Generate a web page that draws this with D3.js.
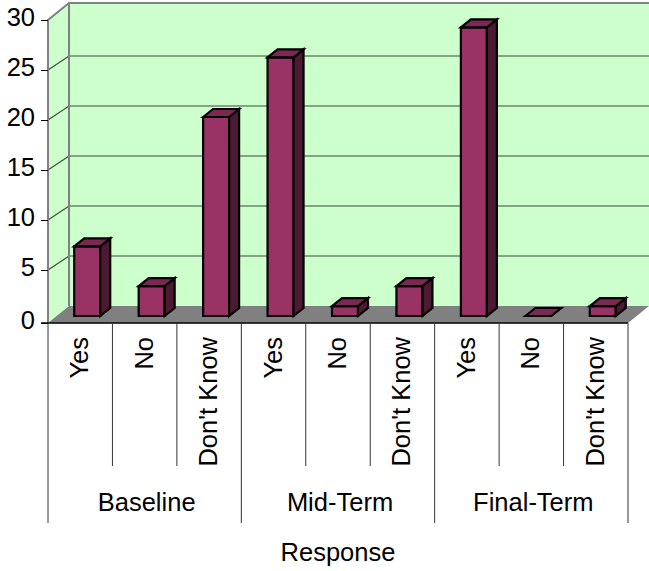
<!DOCTYPE html>
<html>
<head>
<meta charset="utf-8">
<style>
  html, body { margin: 0; padding: 0; background: #fff; }
  text { font-family: "Liberation Sans", Arial, sans-serif; fill: #000; }
</style>
<script src="https://cdn.jsdelivr.net/npm/d3@7/dist/d3.min.js"></script>
</head>
<body>
<svg id="chart" width="649" height="571"></svg>
<script>
const groups = ["Baseline", "Mid-Term", "Final-Term"];
const responses = ["Yes", "No", "Don't Know"];
const baselineValues = [7, 3, 20];
const midTermValues = [26, 1, 3];
const finalTermValues = [29, 0, 1];
const yTicks = [0, 5, 10, 15, 20, 25, 30];
const axisTitle = "Response";

const rows = groups.flatMap((g, gi) =>
  responses.map((r, ri) => ({
    group: g, response: r,
    value: [baselineValues, midTermValues, finalTermValues][gi][ri]
  })));

const svg = d3.select("#chart");
const fontSize = 25.5;

// Front plane of the 3D box, and the depth offset to its back wall
const left = 48, right = 628, baseY = 323, topY = 20;
const depthX = 21, depthY = -17;

const x = d3.scaleBand().domain(d3.range(rows.length)).range([left, right]);
const groupX = d3.scaleBand().domain(groups).range([left, right]);
// The front plane keeps even 5-unit steps above 5, with a slightly taller first step
const y = d3.scaleLinear().domain([0, 5, 30]).range([baseY, 270, topY]);
const yBack = d3.scaleLinear().domain([0, 30]).range([baseY + depthY, 6]);
const yBar = d3.scaleLinear().domain([0, 30]).range([316, 17.5]);

const pts = a => a.map(p => p.join(",")).join(" ");
const backTop = topY + depthY;

// Side wall, back wall, floor
svg.append("polygon").attr("fill", "#ccffcc")
  .attr("points", pts([[left, baseY], [left, topY], [left + depthX, backTop], [left + depthX, baseY + depthY]]));
svg.append("polygon").attr("fill", "#ccffcc")
  .attr("points", pts([[left + depthX, baseY + depthY], [left + depthX, backTop], [right + depthX, backTop], [right + depthX, baseY + depthY]]));
svg.append("polygon").attr("fill", "#808080")
  .attr("points", pts([[left, baseY], [left + depthX, baseY + depthY], [right + depthX, baseY + depthY], [right, baseY]]));

// Gridlines wrapping the side and back walls
const grid = svg.append("g").attr("fill", "none").attr("stroke", "#3f4a3f").attr("stroke-width", 1.2);
grid.selectAll("polyline").data(yTicks.filter(t => t > 0 && t < 30)).join("polyline")
  .attr("points", t => pts([[left, y(t)], [left + depthX, yBack(t)], [right + depthX, yBack(t)]]));

// Wall edges
const edge = svg.append("g").attr("fill", "none").attr("stroke", "#808080").attr("stroke-width", 2);
edge.append("polyline")
  .attr("points", pts([[left, baseY], [left, topY], [left + depthX, backTop], [right + depthX, backTop]]));
edge.append("line")
  .attr("x1", left + depthX).attr("x2", left + depthX)
  .attr("y1", backTop).attr("y2", baseY + depthY);

// Bars: front, top and side faces
const barW = 26, barOffset = 7, barDX = 10, barDY = -8;
const bars = svg.append("g").attr("stroke", "#000").attr("stroke-width", 2.2).attr("stroke-linejoin", "miter");
rows.forEach((d, i) => {
  const x0 = x(i) + x.bandwidth() / 2 + barOffset - barW / 2;
  const x1 = x0 + barW, yb = yBar(0), yt = yBar(d.value);
  const b = bars.append("g");
  if (d.value > 0) {
    b.append("polygon").attr("fill", "#993366")
      .attr("points", pts([[x0, yb], [x0, yt], [x1, yt], [x1, yb]]));
    b.append("polygon").attr("fill", "#4d1a33")
      .attr("points", pts([[x1, yb], [x1, yt], [x1 + barDX, yt + barDY], [x1 + barDX, yb + barDY]]));
  }
  b.append("polygon").attr("fill", "#7a2952")
    .attr("points", pts([[x0, yt], [x0 + barDX, yt + barDY], [x1 + barDX, yt + barDY], [x1, yt]]));
});

// Value axis
const yAxis = svg.append("g").attr("transform", `translate(${left},0)`)
  .call(d3.axisLeft(y).tickValues(yTicks).tickSize(7).tickPadding(6));
yAxis.select(".domain").remove();
yAxis.selectAll("line").attr("stroke", "#000");
yAxis.selectAll("text")
  .attr("font-size", fontSize)
  .attr("dy", "0.22em")
  .style("font-family", '"Liberation Sans", Arial, sans-serif')
  .attr("fill", "#000");

// Two-level category axis below the floor
svg.append("line").attr("x1", left - 7).attr("x2", right).attr("y1", baseY).attr("y2", baseY)
  .attr("stroke", "#000").attr("stroke-width", 1.5);

const sep = svg.append("g").attr("stroke", "#333").attr("stroke-width", 1);
sep.selectAll("line.cat").data(d3.range(rows.length).filter(i => i % 3 !== 0)).join("line")
  .attr("class", "cat")
  .attr("x1", i => x(i)).attr("x2", i => x(i)).attr("y1", baseY).attr("y2", 466);
sep.selectAll("line.grp").data(d3.range(groups.length + 1)).join("line")
  .attr("class", "grp")
  .attr("x1", i => left + i * groupX.bandwidth()).attr("x2", i => left + i * groupX.bandwidth())
  .attr("y1", baseY).attr("y2", 523);

svg.append("g").selectAll("text").data(rows).join("text")
  .attr("font-size", fontSize)
  .attr("text-anchor", "end")
  .attr("dominant-baseline", "central")
  .attr("transform", (d, i) => `translate(${x(i) + x.bandwidth() / 2 - 1},337) rotate(-90)`)
  .text(d => d.response);

svg.append("g").selectAll("text").data(groups).join("text")
  .attr("font-size", fontSize)
  .attr("text-anchor", "middle")
  .attr("x", d => groupX(d) + groupX.bandwidth() / 2 + 2)
  .attr("y", 511)
  .text(d => d);

svg.append("text").attr("font-size", fontSize).attr("text-anchor", "middle")
  .attr("x", 338).attr("y", 561).text(axisTitle);
</script>
</body>
</html>
